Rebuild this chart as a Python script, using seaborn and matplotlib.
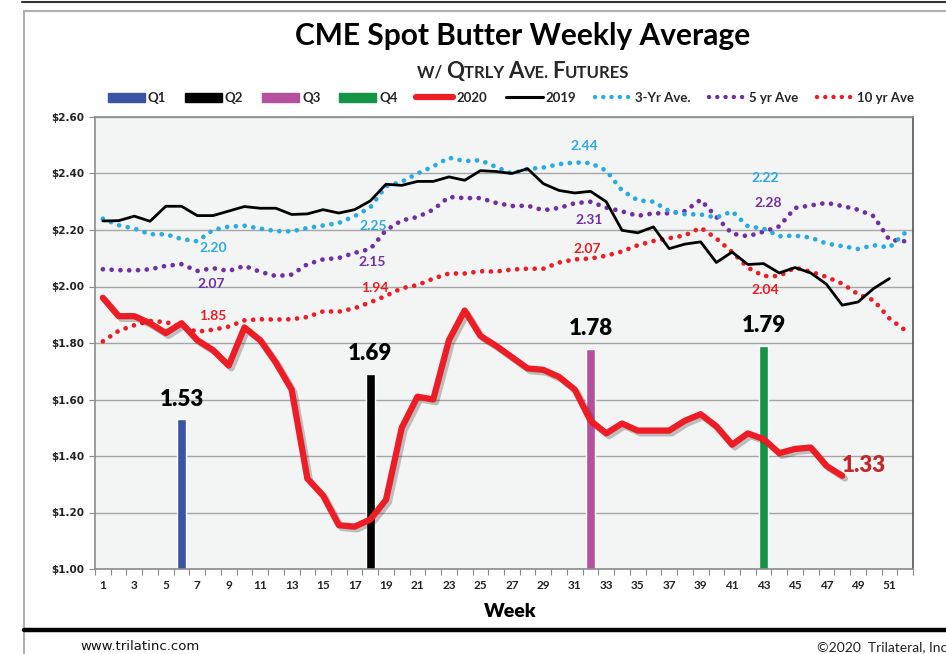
import matplotlib
matplotlib.use('Agg')
import matplotlib.pyplot as plt
import matplotlib.patheffects as pe
from matplotlib.lines import Line2D
from matplotlib.patches import Patch
from matplotlib.ticker import StrMethodFormatter, MultipleLocator
import seaborn as sns

# Données
weeks = list(range(1, 53))

butter_2020 = [1.96, 1.895, 1.895, 1.87, 1.835, 1.87, 1.81, 1.775, 1.72, 1.855,
               1.81, 1.73, 1.635, 1.32, 1.26, 1.155, 1.15, 1.175, 1.245, 1.50,
               1.61, 1.60, 1.81, 1.915, 1.825, 1.79, 1.75, 1.71, 1.705, 1.68,
               1.635, 1.525, 1.48, 1.515, 1.49, 1.49, 1.49, 1.525, 1.548, 1.505,
               1.44, 1.48, 1.46, 1.41, 1.425, 1.43, 1.365, 1.33]

butter_2019 = [2.232, 2.233, 2.249, 2.231, 2.284, 2.284, 2.251, 2.251, 2.267, 2.283,
               2.277, 2.277, 2.255, 2.257, 2.272, 2.26, 2.272, 2.303, 2.362, 2.358,
               2.372, 2.372, 2.388, 2.376, 2.41, 2.407, 2.40, 2.417, 2.364, 2.34,
               2.331, 2.337, 2.30, 2.199, 2.19, 2.211, 2.134, 2.15, 2.158, 2.085,
               2.122, 2.078, 2.081, 2.048, 2.067, 2.048, 2.008, 1.934, 1.945, 1.993,
               2.028]

ave_3yr = [2.24, 2.217, 2.205, 2.185, 2.185, 2.168, 2.16, 2.20, 2.212, 2.215,
           2.205, 2.196, 2.195, 2.207, 2.216, 2.225, 2.249, 2.28, 2.355, 2.371,
           2.40, 2.425, 2.456, 2.444, 2.447, 2.423, 2.40, 2.416, 2.421, 2.433,
           2.439, 2.437, 2.41, 2.34, 2.305, 2.30, 2.267, 2.256, 2.255, 2.244,
           2.266, 2.213, 2.205, 2.178, 2.18, 2.173, 2.152, 2.143, 2.133, 2.146,
           2.138, 2.19]

ave_5yr = [2.061, 2.058, 2.057, 2.061, 2.073, 2.079, 2.055, 2.065, 2.055, 2.073,
           2.052, 2.037, 2.042, 2.079, 2.096, 2.101, 2.119, 2.133, 2.199, 2.234,
           2.246, 2.272, 2.317, 2.313, 2.313, 2.296, 2.285, 2.286, 2.27, 2.278,
           2.295, 2.30, 2.279, 2.266, 2.25, 2.259, 2.259, 2.267, 2.307, 2.246,
           2.187, 2.178, 2.194, 2.213, 2.278, 2.287, 2.296, 2.285, 2.272, 2.249,
           2.165, 2.16]

ave_10yr = [1.806, 1.843, 1.863, 1.878, 1.874, 1.857, 1.84, 1.847, 1.858, 1.88,
            1.884, 1.883, 1.884, 1.892, 1.912, 1.911, 1.923, 1.944, 1.967, 1.994,
            2.005, 2.028, 2.046, 2.046, 2.054, 2.053, 2.06, 2.063, 2.063, 2.085,
            2.096, 2.099, 2.109, 2.124, 2.146, 2.161, 2.171, 2.181, 2.208, 2.17,
            2.122, 2.067, 2.037, 2.037, 2.067, 2.052, 2.034, 2.01, 1.973, 1.951,
            1.887, 1.845]

quarters = ['Q1', 'Q2', 'Q3', 'Q4']
quarter_weeks = [6, 18, 32, 43]
quarter_futures = [1.53, 1.69, 1.78, 1.79]

# étiquettes des moyennes trimestrielles
labels_3yr = ['2.20', '2.25', '2.44', '2.22']
labels_5yr = ['2.07', '2.15', '2.31', '2.28']
labels_10yr = ['1.85', '1.94', '2.07', '2.04']

# Couleurs
c_q = ['#3a53a4', '#000000', '#b5509e', '#139447']
c_2020 = '#ee1c24'
c_3yr = '#29abe2'
c_5yr = '#7030a0'
c_10yr = '#ee1c24'

sns.set_theme(style='whitegrid')
plt.rcParams['font.family'] = ['Lato', 'DejaVu Sans']

fig = plt.figure(figsize=(9.46, 6.54), dpi=100)
fig.patch.set_facecolor('white')
ax = fig.add_axes([95 / 946, 1 - 569 / 654, (913 - 95) / 946, (569 - 117) / 654])
ax.set_facecolor('#f3f5f5')

# barres des contrats trimestriels
ax.bar(quarter_weeks, quarter_futures, width=0.55, color=c_q, zorder=2)
for w, v in zip(quarter_weeks, quarter_futures):
    ax.annotate(f'{v:.2f}', (w, v), xytext=(0, 7), textcoords='offset points',
                ha='center', va='bottom', fontsize=16, fontweight='heavy', color='black')

dot = (0, (0.01, 1.85))
sns.lineplot(x=weeks, y=ave_10yr, ax=ax, color=c_10yr, lw=3.4, linestyle=dot,
             dash_capstyle='round', zorder=3)
sns.lineplot(x=weeks, y=ave_5yr, ax=ax, color=c_5yr, lw=3.4, linestyle=dot,
             dash_capstyle='round', zorder=3)
sns.lineplot(x=weeks, y=ave_3yr, ax=ax, color=c_3yr, lw=3.4, linestyle=dot,
             dash_capstyle='round', zorder=3)
sns.lineplot(x=weeks[:len(butter_2019)], y=butter_2019, ax=ax, color='black', lw=2.0, zorder=4)
sns.lineplot(x=weeks[:len(butter_2020)], y=butter_2020, ax=ax, color=c_2020, lw=4.5, zorder=5,
             path_effects=[pe.SimpleLineShadow(offset=(2, -2), alpha=0.25), pe.Normal()])

ax.text(48.0, 1.367, '1.33', ha='left', va='center', fontsize=16, fontweight='heavy',
        color='#c1272d', zorder=6)

# positions des étiquettes (semaine, y)
pos_3yr = [(8.0, 2.135), (18.2, 2.215), (31.6, 2.498), (43.1, 2.385)]
pos_5yr = [(7.9, 2.008), (18.1, 2.088), (31.9, 2.236), (43.3, 2.296)]
pos_10yr = [(8.0, 1.897), (18.3, 1.994), (31.8, 2.134), (43.1, 1.988)]
for labs, pos, col in [(labels_3yr, pos_3yr, c_3yr), (labels_5yr, pos_5yr, c_5yr),
                       (labels_10yr, pos_10yr, c_10yr)]:
    for s, (x, y) in zip(labs, pos):
        ax.text(x, y, s, ha='center', va='center', fontsize=10, fontweight='bold', color=col, zorder=6)

# Axes
ax.set_xlim(0.5, 52.5)
ax.set_ylim(1.0, 2.6)
ax.yaxis.set_major_locator(MultipleLocator(0.2))
ax.yaxis.set_major_formatter(StrMethodFormatter('${x:.2f}'))
ax.set_xticks(range(1, 53, 2))
ax.set_xticks([w + 0.5 for w in range(0, 53)], minor=True)
ax.grid(axis='y', color='#a6a6a6', lw=1.0)
ax.grid(axis='x', visible=False)
ax.tick_params(axis='x', which='major', length=0, pad=8, labelsize=8.5, labelcolor='#222222')
ax.tick_params(axis='x', which='minor', length=4, width=0.8, color='#888888', bottom=True)
ax.tick_params(axis='y', length=4, width=0.8, color='#888888', left=True, pad=4, labelcolor='#222222')
for lab in ax.get_xticklabels():
    lab.set_fontweight('bold')
for lab in ax.get_yticklabels():
    lab.set_fontweight('bold')
    lab.set_fontsize(7.5)
    lab.set_family('DejaVu Sans')
for sp in ax.spines.values():
    sp.set_color('#8c8c8c')
    sp.set_linewidth(1.2)
ax.spines['right'].set_color('#555555')
ax.set_xlabel('Week', fontsize=14, fontweight='heavy', color='black')
ax.xaxis.set_label_coords(0.508, -0.093)
ax.xaxis.label.set_va('center')
ax.set_ylabel('')

# Titres
fig.text(523 / 946, 1 - 36 / 654, 'CME Spot Butter Weekly Average', ha='center', va='center',
         fontsize=21.5, fontweight='bold', color='black')

pieces = [('W/ ', 12), ('Q', 16), ('TRLY ', 12), ('A', 16), ('VE. ', 12), ('F', 16), ('UTURES', 12)]
r = fig.canvas.get_renderer()
txts = [fig.text(0, 1 - 78 / 654, s, fontsize=sz, fontweight='bold', va='baseline', ha='left')
        for s, sz in pieces]
widths = [t.get_window_extent(r).width for t in txts]
x0 = 523 - sum(widths) / 2
for t, w in zip(txts, widths):
    t.set_x(x0 / 946)
    x0 += w

# Légende
handles = [Patch(color=c) for c in c_q]
handles += [Line2D([], [], color=c_2020, lw=4.5, solid_capstyle='round'),
            Line2D([], [], color='black', lw=2.2),
            Line2D([], [], color=c_3yr, lw=3.2, linestyle=dot, dash_capstyle='round'),
            Line2D([], [], color=c_5yr, lw=3.2, linestyle=dot, dash_capstyle='round'),
            Line2D([], [], color=c_10yr, lw=3.2, linestyle=dot, dash_capstyle='round')]
names = quarters + ['2020', '2019', '3-Yr Ave.', '5 yr Ave', '10 yr Ave']
leg = fig.legend(handles, names, loc='center', bbox_to_anchor=(511 / 946, 1 - 98 / 654), ncol=9,
                 frameon=False, handlelength=2.8, handleheight=0.7, handletextpad=0.25,
                 columnspacing=1.4, prop={'weight': 'bold', 'size': 9.5})

# Décorations de la page
fig.add_artist(Line2D([22 / 946, 1], [1 - 2 / 654] * 2, color='#333333', lw=1.5))
fig.add_artist(Line2D([24 / 946, 1], [1 - 11 / 654] * 2, color='#b0b0b0', lw=1.5))
fig.add_artist(Line2D([24 / 946] * 2, [0, 1 - 11 / 654], color='#b0b0b0', lw=1.5))
fig.add_artist(Line2D([24 / 946, 1], [1 - 630 / 654] * 2, color='black', lw=3.2))
fig.text(140 / 946, 1 - 647 / 654, 'www.trilatinc.com', ha='center', va='center', fontsize=9.5,
         color='#111111', family=['DejaVu Sans'])
fig.text(817 / 946, 1 - 647 / 654, '\u00a92020  Trilateral, Inc', ha='left', va='center',
         fontsize=10, color='#222222')

fig.savefig('out.png', dpi=100)
